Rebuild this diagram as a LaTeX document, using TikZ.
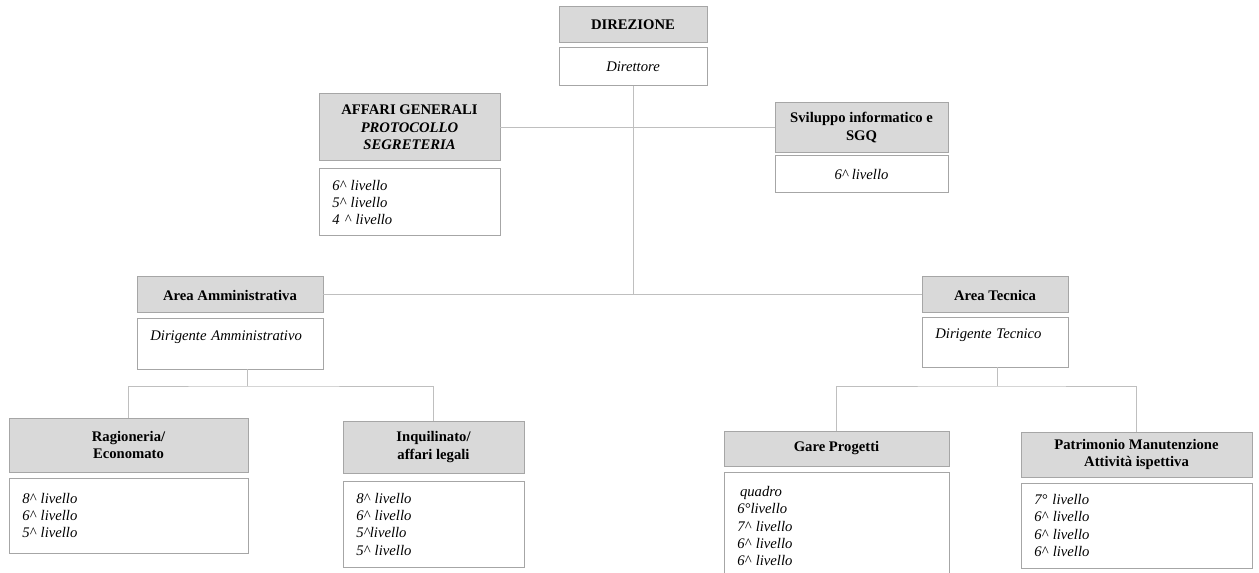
\documentclass[tikz,border=0pt]{standalone}
\usepackage{fontspec}
\setmainfont{Liberation Serif}
\usetikzlibrary{positioning}
\definecolor{headfill}{HTML}{D9D9D9}
\definecolor{boxline}{HTML}{A6A6A6}
\definecolor{linkline}{HTML}{BFBFBF}
\tikzset{unit/.style={draw=boxline,line width=.75pt,outer sep=0pt},head/.style={unit,fill=headfill,align=center,font=\fontsize{11}{13}\selectfont\bfseries},role/.style={unit,fill=white,align=center,font=\fontsize{11}{13}\selectfont\itshape},staff/.style={unit,fill=white,align=left,inner xsep=10pt,font=\fontsize{11}{13}\selectfont\itshape},link/.style={draw=linkline,line width=.75pt}}

\begin{document}
\begin{tikzpicture}[x=.75pt,y=-.75pt]
\useasboundingbox (0,0) rectangle (1259,573);
\clip (0,0) rectangle (1259,573);
% vertice
\node[head,minimum width=111pt,minimum height=27pt] (dirH) at (633,25) {DIREZIONE};
\node[role,minimum width=111pt,minimum height=28.5pt,below=3.75pt of dirH] (dirW) {Direttore};
% staff della direzione
\node[head,minimum width=135.75pt,minimum height=50.25pt] (affH) at (409.5,127.5) {AFFARI GENERALI\\\textit{PROTOCOLLO}\\\textit{SEGRETERIA}};
\node[staff,text width=115.75pt,minimum height=50.25pt,below=6pt of affH] (affW) {6\textasciicircum{} livello\\5\textasciicircum{} livello\\4 \textasciicircum{} livello};
\node[head,minimum width=129.75pt,minimum height=37.5pt] (svilH) at (861.5,127.5) {Sviluppo informatico e\\SGQ};
\node[role,minimum width=129.75pt,minimum height=27.75pt,below=2.25pt of svilH] (svilW) {6\textasciicircum{} livello};
% aree
\node[head,minimum width=139.5pt,minimum height=27pt] (ammH) at (230,295) {Area Amministrativa};
\node[staff,text width=119.5pt,minimum height=37.5pt,below=4.5pt of ammH] (ammW) {Dirigente Amministrativo\\\mbox{}};
\node[head,minimum width=109.5pt,minimum height=27pt] (tecH) at (995,295) {Area Tecnica};
\node[staff,text width=89.5pt,minimum height=36.75pt,below=3.75pt of tecH] (tecW) {Dirigente Tecnico\\\mbox{}};
% uffici
\node[head,minimum width=179.25pt,minimum height=40.5pt] (ragH) at (128.5,445) {Ragioneria/\\Economato};
\node[staff,text width=159.25pt,minimum height=56.25pt,below=4.5pt of ragH] (ragW) {8\textasciicircum{} livello\\6\textasciicircum{} livello\\5\textasciicircum{} livello};
\node[head,minimum width=135.75pt,minimum height=39pt] (inqH) at (433.5,447) {Inquilinato/\\affari legali};
\node[staff,text width=115.75pt,minimum height=64.5pt,below=6pt of inqH] (inqW) {8\textasciicircum{} livello\\6\textasciicircum{} livello\\5\textasciicircum{}livello\\5\textasciicircum{} livello};
\node[head,minimum width=168.75pt,minimum height=26.25pt] (gareH) at (836.5,448.5) {Gare Progetti};
\node[staff,text width=148.75pt,minimum height=81pt,below=4.5pt of gareH] (gareW) {\hspace{2pt}quadro\\6°livello\\7\textasciicircum{} livello\\6\textasciicircum{} livello\\6\textasciicircum{} livello};
\node[head,minimum width=173.25pt,minimum height=33.75pt] (patH) at (1136.5,454.5) {Patrimonio Manutenzione\\Attività ispettiva};
\node[staff,text width=153.25pt,minimum height=63.75pt,below=4.5pt of patH] (patW) {7° livello\\6\textasciicircum{} livello\\6\textasciicircum{} livello\\6\textasciicircum{} livello};
% collegamenti
\coordinate (ammJ) at (247,386);
\coordinate (tecJ) at (997,386);
\draw[link] (dirW.south)--(dirW.south |- ammH.east);
\draw[link] (affH.east)--(svilH.west);
\draw[link] (ammH.east)--(tecH.west);
\draw[link] (ammW.south -| ammJ)--(ammJ);
\draw[link] (ragH.north) |- (ammJ) -| (inqH.north);
\draw[link] (tecW.south -| tecJ)--(tecJ);
\draw[link] (gareH.north) |- (tecJ) -| (patH.north);
\end{tikzpicture}
\end{document}
